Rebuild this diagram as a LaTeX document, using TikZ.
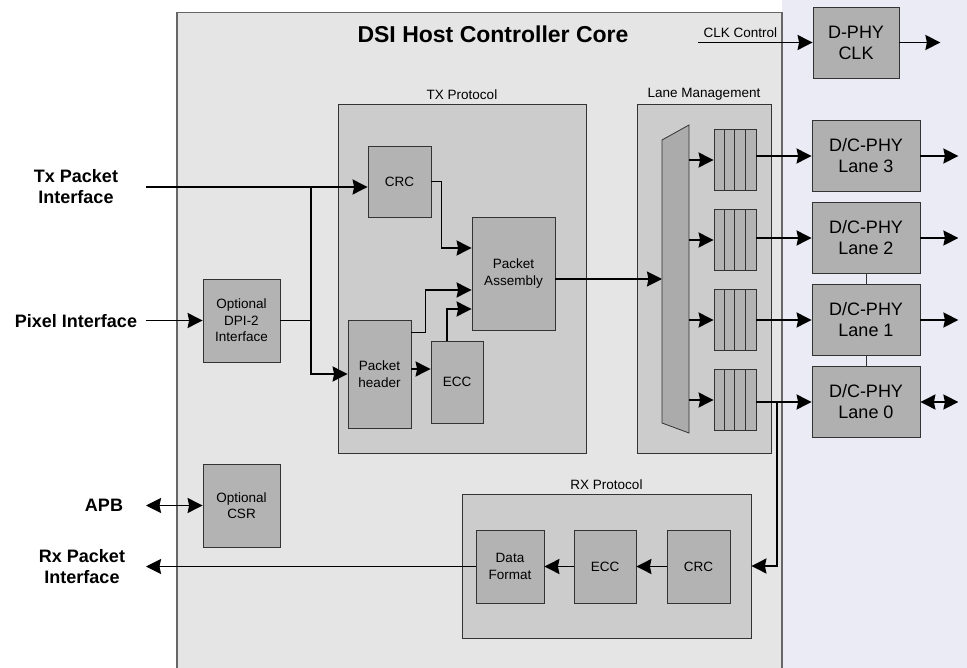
\documentclass[tikz,border=0pt]{standalone}
\usepackage{fontspec}
\setmainfont{Liberation Sans}
\usepackage{xcolor}
\usepackage{tikz}
\usetikzlibrary{arrows.meta}
\definecolor{coregray}{HTML}{E5E5E5}
\definecolor{protogray}{HTML}{CCCCCC}
\definecolor{blockgray}{HTML}{B3B3B3}
\definecolor{phygray}{HTML}{B0B0B0}
\definecolor{lavender}{HTML}{EBEBF5}
\tikzstyle{arrow} = [line width=1.8pt,-{Stealth[length=15pt,width=15pt,inset=1.5pt]}]
\tikzstyle{dblarrow} = [line width=1.8pt,{Stealth[length=15pt,width=15pt,inset=1.5pt]}-{Stealth[length=15pt,width=15pt,inset=1.5pt]}]
\tikzstyle{wire} = [line width=1.8pt]
\tikzstyle{block} = [draw=black!80,line width=0.8pt,fill=blockgray,inner sep=0pt,align=center,font=\fontsize{13.5}{16.5}\selectfont]
\tikzstyle{proto} = [draw=black!80,line width=0.8pt,fill=protogray,inner sep=0pt]
\tikzstyle{phy} = [block,fill=phygray,minimum width=108pt,minimum height=71pt,font=\fontsize{18}{21}\selectfont]
\tikzstyle{fifo} = [draw=black!80,line width=0.8pt,fill=blockgray,inner sep=0pt,minimum width=42pt,minimum height=61pt]
\tikzstyle{iolabel} = [font=\bfseries\fontsize{18}{21}\selectfont,align=center]
\tikzstyle{caption} = [font=\fontsize{13.5}{16.5}\selectfont]

\begin{document}
\begin{tikzpicture}[x=1pt,y=-1pt]
	\useasboundingbox (0,0) rectangle (967,668);
	
	% Background:
	\fill[white] (0,0) rectangle (177,668);
	\fill[lavender] (782,0) rectangle (967,668);
	\fill[coregray] (177,12.5) rectangle (782,668);
	\draw[black!60,line width=1.4pt] (177,680) -- (177,12.5) -- (782,12.5) -- (782,680);
	\node[font=\bfseries\fontsize{23}{27}\selectfont] (title) at (493,34) {DSI Host Controller Core};
	
	% Protocol boxes:
	\node[proto,minimum width=248pt,minimum height=349pt] (txbox) at (462,278.5) {};
	\node[caption,above=0pt] (txlabel) at (txbox.north) {TX Protocol};
	\node[proto,minimum width=134pt,minimum height=349pt] (lmbox) at (704,278.5) {};
	\node[caption,above=0pt] (lmlabel) at (lmbox.north) {Lane Management};
	\node[proto,minimum width=289pt,minimum height=144pt] (rxbox) at (606.5,566) {};
	\node[caption,above=0pt] (rxlabel) at (rxbox.north) {RX Protocol};
	
	% TX blocks:
	\node[block,minimum width=63pt,minimum height=71pt] (crcTx) at (399.5,181.5) {CRC};
	\node[block,minimum width=83pt,minimum height=113pt] (pa) at (513.5,273.5) {Packet\\Assembly};
	\node[block,minimum width=63pt,minimum height=108pt] (ph) at (379.5,374) {Packet\\header};
	\node[block,minimum width=52pt,minimum height=82pt] (eccTx) at (457,382) {ECC};
	
	% Optional blocks:
	\node[block,minimum width=77pt,minimum height=83pt] (dpi) at (241.5,320.5) {Optional\\DPI-2\\Interface};
	\node[block,minimum width=77pt,minimum height=83pt] (csr) at (241.5,505.5) {Optional\\CSR};
	
	% RX blocks:
	\node[block,minimum width=68pt,minimum height=73pt] (df) at (510,566.5) {Data\\Format};
	\node[block,minimum width=62pt,minimum height=73pt] (eccRx) at (605,566.5) {ECC};
	\node[block,minimum width=63pt,minimum height=73pt] (crcRx) at (698.5,566.5) {CRC};
	
	% Lane management: distributor and FIFOs
	\filldraw[draw=black!80,line width=0.8pt,fill=black!33] (662,140) -- (689,125) -- (689,433) -- (662,423) -- cycle;
	\coordinate (muxin) at (662,279);
	\coordinate (muxout) at (689,279);
	\foreach \i in {0,...,3}
	{
		\node[fifo] (fifo\i) at (735,{400-80*\i}) {};
		\foreach \k in {1,2,3}
			\draw[black!80,line width=0.8pt] ([xshift=\k*10.5pt]fifo\i.north west) -- ([xshift=\k*10.5pt]fifo\i.south west);
		\node[phy] (phy\i) at (866,{402-82*\i}) {D/C-PHY\\Lane \i};
		\draw[arrow] (fifo\i.west -| muxout) -- (fifo\i.west);
		\draw[arrow] (phy\i.west -| fifo\i.east) -- (phy\i.west);
	}
	\foreach \i in {1,2,3}
		\draw[arrow] (phy\i.east) -- ++(38,0);
	\draw[dblarrow] (phy0.east) -- ++(38,0);
	\draw[black!80,line width=0.8pt] (phy2.south) -- (phy1.north);
	\draw[black!80,line width=0.8pt] (phy1.south) -- (phy0.north);
	
	% Clock:
	\node[phy,minimum width=86pt,minimum height=71pt] (dphyclk) at (856,42.5) {D-PHY\\CLK};
	\coordinate (clkin) at (698,42.5);
	\draw[arrow] (clkin) -- (dphyclk.west) node[caption,pos=0.37,above=1pt] {CLK Control};
	\draw[arrow] (dphyclk.east) -- ++(41,0);
	
	% External interfaces:
	\node[iolabel] (txif) at (76,187) {Tx Packet\\Interface};
	\node[iolabel] (pixif) at (76,321) {Pixel Interface};
	\node[iolabel] (apb) at (104,505) {APB};
	\node[iolabel] (rxif) at (82,566.5) {Rx Packet\\Interface};
	\coordinate (txin) at (146,187);
	\coordinate (pixin) at (146,320.5);
	\coordinate (apbin) at (146,505.5);
	\coordinate (rxout) at (146,566.5);
	\coordinate (split) at (311,187);
	
	% TX path:
	\draw[arrow] (txin) -- (txin -| crcTx.west);
	\draw[arrow] (pixin) -- (dpi.west);
	\draw[wire] (dpi.east) -- (dpi.east -| split);
	\draw[arrow] (split) |- (ph.west);
	\draw[arrow] (crcTx.east) -- ++(10,0) |- ([yshift=25.5pt]pa.west);
	\draw[arrow] ([yshift=-13pt]ph.north east) -- ++(14,0) |- ([yshift=-16.5pt]pa.west);
	\draw[arrow] ([xshift=-10pt]eccTx.north) |- ([yshift=-35.5pt]pa.west);
	\draw[arrow] (ph.east |- 0,369) -- (eccTx.west |- 0,369);
	\draw[arrow] (pa.east |- muxin) -- (muxin);
	
	% RX path:
	\draw[arrow] (phy0.west -| 777,0) |- (rxbox.east);
	\draw[arrow] (crcRx.west) -- (eccRx.east);
	\draw[arrow] (eccRx.west) -- (df.east);
	\draw[arrow] (df.west) -- (rxout);
	\draw[dblarrow] (apbin) -- (csr.west);
	
\end{tikzpicture}
\end{document}
